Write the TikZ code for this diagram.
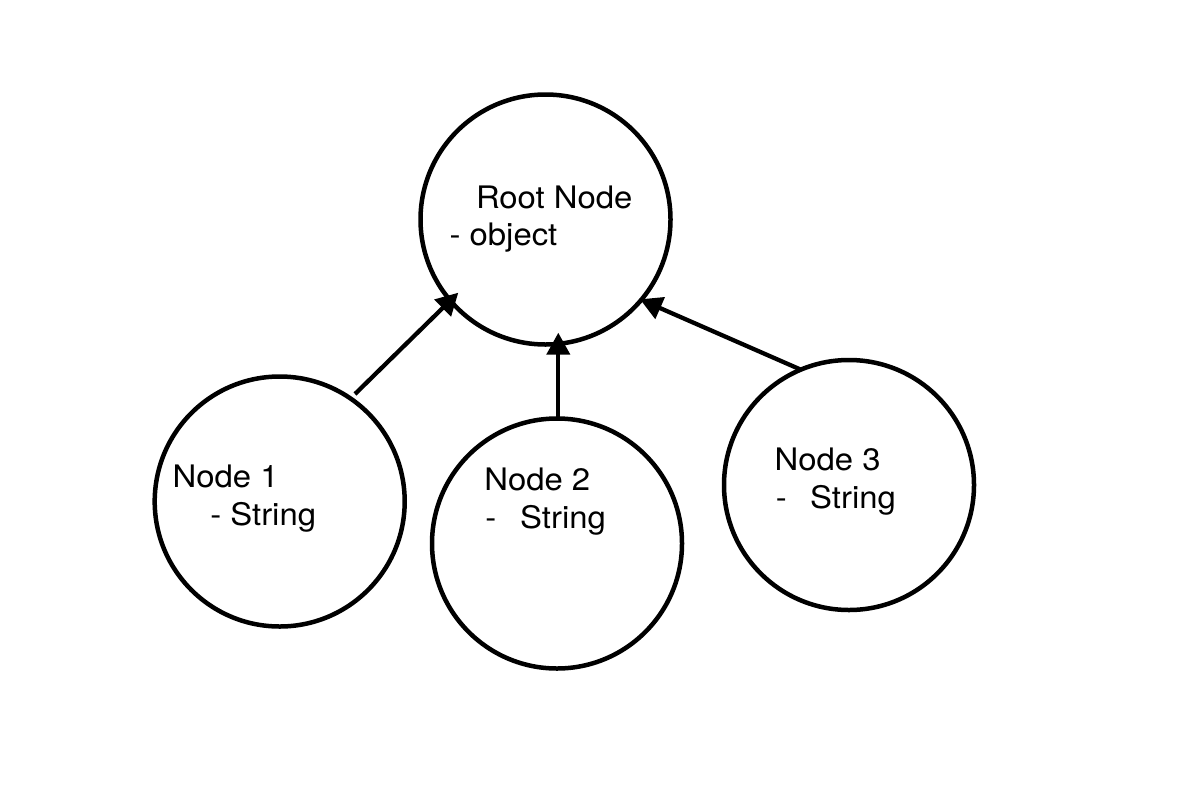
\documentclass[tikz,border=0pt]{standalone}
\usepackage{fontspec}
\setmainfont{TeX Gyre Heros}[FakeStretch=1.06]
\usetikzlibrary{arrows.meta,calc}
\begin{document}
\begin{tikzpicture}[x=1pt,y=-1pt,
  bubble/.style={circle,draw=black,line width=4.5pt,minimum size=250pt,inner sep=0pt,outer sep=0pt},
  label/.style={anchor=base west,inner sep=0pt,outer sep=0pt,font=\fontsize{31}{37.5}\selectfont},
  arr/.style={line width=4.3pt,-{Triangle[length=22pt,width=23pt]}}]
\useasboundingbox[fill=white] (0,0) rectangle (1182,798);
% circles
\node[bubble] (root) at (545.5,219.5) {};
\node[bubble] (n1) at (279.7,501.5) {};
\node[bubble] (n2) at (557,543.5) {};
\node[bubble] (n3) at (849,485) {};
% texts
\node[label] (rootA) at (476,208.3) {Root Node};
\node[label] (rootB) at (449.6,245) {- object};
\node[label] (n1A) at (172.6,487) {Node 1};
\node[label] (n1B) at (210.3,525) {- String};
\node[label] (n2A) at (484.3,490.7) {Node 2};
\node[label] (n2B) at (485.3,528) {-};
\node[label] (n2C) at (520.2,528) {String};
\node[label] (n3A) at (774.6,470.7) {Node 3};
\node[label] (n3B) at (775.9,508) {-};
\node[label] (n3C) at (810.2,508) {String};
% connector end points
\coordinate (s1) at ($(n1.center)+(75.3,-107.5)$);
\coordinate (t1) at ($(root.center)+(-87.2,73.2)$);
\coordinate (s2) at ($(n2.center)+(1.3,-126.5)$);
\coordinate (t2) at ($(root.center)+(12.8,113.2)$);
\coordinate (s3) at ($(n3.center)+(-49,-115.7)$);
\coordinate (t3) at ($(root.center)+(94.5,79.8)$);
\draw[arr] (s1) -- (t1);
\draw[arr] (s2) -- (t2);
\draw[arr] (s3) -- (t3);
\end{tikzpicture}
\end{document}
